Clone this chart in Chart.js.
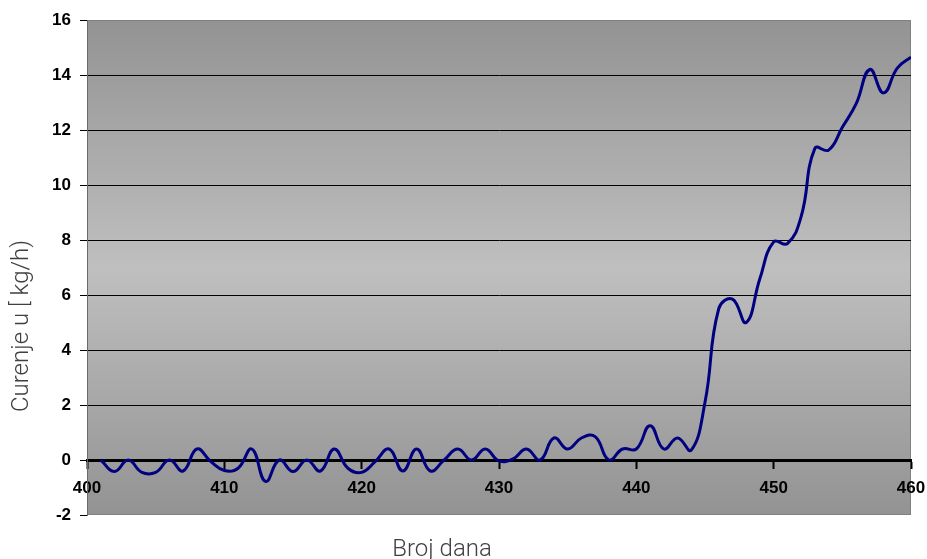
<!DOCTYPE html>
<html>
<head>
<meta charset="utf-8">
<title>Curenje</title>
<script src="https://cdn.jsdelivr.net/npm/chart.js@4.4.1/dist/chart.umd.min.js"></script>
<style>
  html, body { margin: 0; padding: 0; background: #fff; }
  canvas { display: block; }
</style>
</head>
<body>
<canvas id="chart" width="927" height="559"></canvas>
<script>
let days = [
  401, 402, 403, 404, 405, 406, 407, 408, 409, 410,
  411, 412, 413, 414, 415, 416, 417, 418, 419, 420,
  421, 422, 423, 424, 425, 426, 427, 428, 429, 430,
  431, 432, 433, 434, 435, 436, 437, 438, 439, 440,
  441, 442, 443, 444, 445, 446, 447, 448, 449, 450,
  451, 452, 453, 454, 455, 456, 457, 458, 459, 460
]
let leakage = [
  0, -0.42, 0, -0.45, -0.45, 0, -0.4, 0.4, -0.05, -0.38,
  -0.3, 0.4, -0.78, 0, -0.42, 0, -0.4, 0.4, -0.3, -0.45,
  -0.05, 0.4, -0.4, 0.4, -0.4, 0, 0.4, 0, 0.4, -0.03,
  0.03, 0.4, 0, 0.8, 0.4, 0.8, 0.85, 0, 0.4, 0.4,
  1.25, 0.4, 0.8, 0.36, 2.1, 5.5, 5.85, 5.0, 6.6, 7.93,
  7.87, 8.85, 11.33, 11.27, 12.1, 12.95, 14.2, 13.35, 14.25, 14.65
]
let xTitle = 'Broj dana'
let yTitle = 'Curenje u [ kg/h)'

let tickFont = {family: 'Liberation Sans', size: 17, weight: 'bold', lineHeight: 1.2}

// grey gradient behind the plot + thin frame
let plotBackground = {
  id: 'plotBackground',
  beforeDraw(chart) {
    let {ctx, chartArea: a} = chart
    let g = ctx.createLinearGradient(0, a.top, 0, a.bottom)
    g.addColorStop(0, '#939393')
    g.addColorStop(0.5, '#bfbfbf')
    g.addColorStop(1, '#939393')
    ctx.save()
    ctx.fillStyle = g
    ctx.fillRect(a.left, a.top, a.right - a.left, a.bottom - a.top)
    ctx.strokeStyle = '#808080'
    ctx.lineWidth = 1
    ctx.strokeRect(a.left + 0.5, a.top + 0.5, a.right - a.left - 1, a.bottom - a.top - 1)
    ctx.restore()
  }
}

// axis titles are not centred on the plot in the original, so place them here
let axisTitles = {
  id: 'axisTitles',
  afterDraw(chart) {
    let {ctx} = chart
    ctx.save()
    ctx.font = '300 24px Roboto'
    ctx.fillStyle = '#404040'
    ctx.textAlign = 'center'
    ctx.textBaseline = 'alphabetic'
    ctx.fillText(xTitle, 442, 556)
    ctx.translate(28, 326)
    ctx.rotate(-Math.PI / 2)
    ctx.fillText(yTitle, 0, 0)
    ctx.restore()
  }
}

let ctx = document.getElementById('chart').getContext('2d')
let myChart = new Chart(ctx, {
  type: 'line',
  data: {
    datasets: [{
      data: days.map((d, i) => ({x: d, y: leakage[i]})),
      borderColor: '#000080',
      borderWidth: 3,
      pointRadius: 0,
      tension: 0.45,
      fill: false
    }]
  },
  options: {
    responsive: false,
    animation: false,
    layout: {padding: {top: 20, right: 16, left: 0, bottom: 44}},
    plugins: {
      legend: {display: false},
      tooltip: {enabled: false},
      title: {display: false}
    },
    scales: {
      x: {
        type: 'linear',
        min: 400,
        max: 460,
        position: {y: 0},
        ticks: {stepSize: 10, color: '#000', font: tickFont, padding: 11, maxRotation: 0},
        grid: {drawOnChartArea: false, drawTicks: true, tickLength: 7, tickColor: '#000', tickWidth: 2},
        border: {color: '#000', width: 3},
        afterFit: s => { s.paddingLeft = 0; s.paddingRight = 0 }
      },
      y: {
        min: -2,
        max: 16,
        ticks: {stepSize: 2, color: '#000', font: tickFont, padding: 9},
        grid: {
          color: c => (c.tick && (c.tick.value === -2 || c.tick.value === 16)) ? 'rgba(0,0,0,0)' : '#000',
          lineWidth: 1,
          tickColor: '#000',
          tickLength: 7
        },
        border: {color: '#6a6a6a', width: 1},
        afterFit: s => { s.width = 87 }
      }
    }
  },
  plugins: [plotBackground, axisTitles]
})
</script>
</body>
</html>
